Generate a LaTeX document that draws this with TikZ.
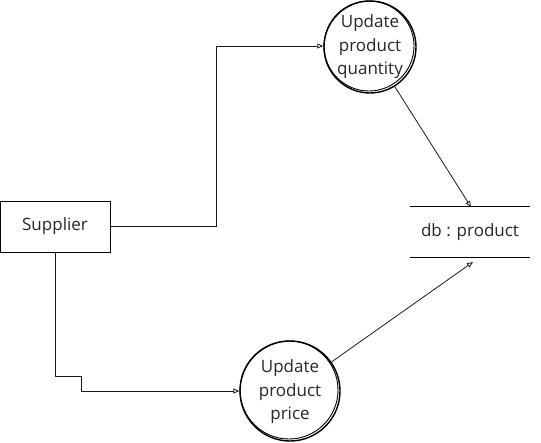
\documentclass[tikz,border=0pt]{standalone}
\usepackage{fontspec}
\setmainfont{Open Sans}
\usetikzlibrary{arrows.meta}
\begin{document}
\begin{tikzpicture}[x=1pt,y=-1pt,
  lbl/.style={font=\fontsize{17}{23.5}\selectfont, align=center, text=black!85},
  proc/.style={circle, draw=black, line width=1.4pt, inner sep=0pt},
  conn/.style={draw=black!90, line width=0.8pt, -{Triangle[open,length=6pt,width=5pt]}},
  boxst/.style={draw=black, line width=0.9pt, minimum width=110pt, minimum height=51pt, inner sep=0pt}
]
\useasboundingbox (0,0) rectangle (541,442);
% nodes
\node[boxst, lbl] (sup) at (55,226.5) {Supplier};
\node[proc, minimum size=92pt] (q) at (370,47) {};
\node[lbl] (qt) at (370,47) {Update\\product\\quantity};
\node[proc, minimum size=100pt] (p) at (290,391) {};
\node[lbl] (pt) at (290,392) {Update\\product\\price};
% sketchy second stroke
\draw[line width=0.9pt] (369,46) circle (45pt);
\draw[line width=0.9pt] (289,390) circle (49pt);
% datastore
\node[lbl, minimum width=120pt, minimum height=50pt, inner sep=0pt] (db) at (470,232) {db : product};
\draw[line width=0.9pt] (db.north west) -- (db.north east);
\draw[line width=0.9pt] (db.south west) -- (db.south east);
% connectors
\coordinate (c1) at (216,226);
\coordinate (c2) at (216,46);
\draw[conn] (sup.east |- c1) -- (c1) -- (c2) -- (q.west |- c2);
\coordinate (d1) at (55,376);
\coordinate (d2) at (81,376);
\coordinate (d3) at (81,391);
\draw[conn] (sup.south) -- (d1) -- (d2) -- (d3) -- (p.west |- d3);
\coordinate (e1) at (471,207);
\draw[conn] (q.-58) -- (e1);
\coordinate (e2) at (473,262);
\draw[conn] (p.35) -- (e2);
\end{tikzpicture}
\end{document}
